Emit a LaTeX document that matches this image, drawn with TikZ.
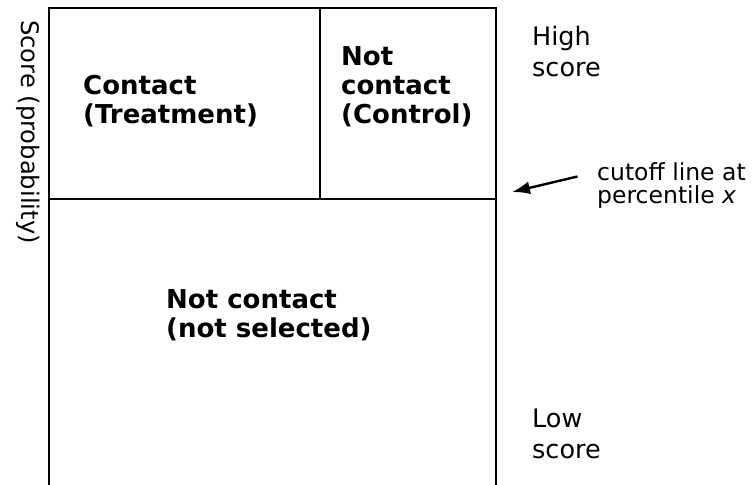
\documentclass[tikz,border=0pt]{standalone}
\usepackage{fontspec}
\setmainfont{DejaVu Sans}
\usetikzlibrary{arrows.meta}

\tikzset{
  frame/.style={line width=2.8pt},
  cell/.style={font=\fontsize{26}{29}\selectfont\bfseries, align=left, anchor=base west, inner sep=0pt},
  side/.style={font=\fontsize{25.5}{31}\selectfont, align=left, anchor=base west, inner sep=0pt},
  note/.style={font=\fontsize{23.5}{23}\selectfont, align=left, anchor=base west, inner sep=0pt},
  pointer/.style={line width=2.4pt, -{Latex[length=18pt,width=13pt]}},
}

\begin{document}
\begin{tikzpicture}[x=1pt,y=-1pt]
  \useasboundingbox (0,0) rectangle (753,485);

  % corners of the frame, the cutoff line and the divider
  \coordinate (tl) at (49,8);
  \coordinate (tr) at (496,8);
  \coordinate (bl) at (49,486);
  \coordinate (br) at (496,486);
  \coordinate (cl) at (49,199);
  \coordinate (cr) at (496,199);
  \coordinate (dt) at (320,8);
  \coordinate (db) at (320,199);

  % frame (open at the bottom)
  \draw[frame] (bl) -- (tl) -- (tr) -- (br);
  \draw[frame, line width=2.4pt] (cl) -- (cr);
  \draw[frame, line width=2.4pt] (dt) -- (db);

  % cells (placed by the baseline of their last line)
  \node[cell] (treat) at (83,123) {Contact\\(Treatment)};
  \node[cell] (ctrl) at (341,123) {Not\\contact\\(Control)};
  \node[cell] (rest) at (166,337) {Not contact\\(not selected)};

  % axis label
  \node[rotate=-90, inner sep=0pt, font=\fontsize{24.2}{26}\selectfont] (axis) at (28,132) {Score (probability)};

  % side labels
  \node[side] (high) at (532,76) {High\\score};
  \node[side] (low) at (532,458) {Low\\score};

  % cutoff note and its arrow
  \node[note] (cutnote) at (597,203) {cutoff line at\\percentile \textit{x}};
  \coordinate (tip) at (512,192);
  \draw[pointer, shorten <=20pt] (cutnote.170) -- (tip);
\end{tikzpicture}
\end{document}
